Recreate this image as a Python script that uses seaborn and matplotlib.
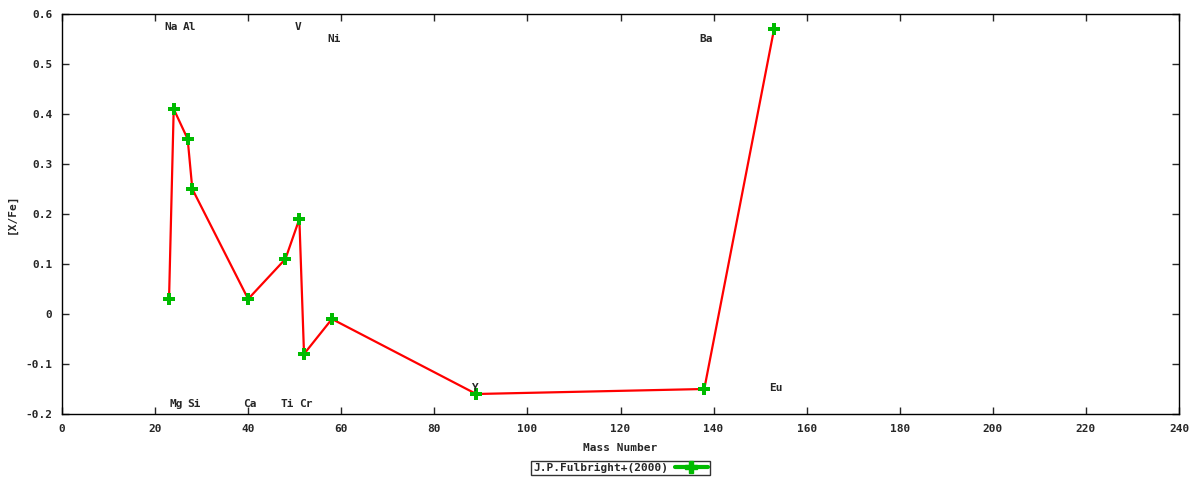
import pandas as pd
import seaborn as sns
import matplotlib.pyplot as plt
from matplotlib.lines import Line2D
from matplotlib.ticker import FuncFormatter, MultipleLocator

# Fulbright (2000) abundance pattern
elements = ["Na", "Mg", "Al", "Si", "Ca", "Ti", "V", "Cr", "Ni", "Y", "Ba", "Eu"]
mass_number = [23, 24, 27, 28, 40, 48, 51, 52, 58, 89, 138, 153]
x_fe = [0.03, 0.41, 0.35, 0.25, 0.03, 0.11, 0.19, -0.08, -0.01, -0.16, -0.15, 0.57]

# element label anchors (data coords, left aligned)
label_x = [22, 23, 26, 27, 39, 47, 50, 51, 57, 88, 137, 152]
label_y = [0.575, -0.18, 0.575, -0.18, -0.18, -0.18, 0.575, -0.18, 0.55, -0.148, 0.55, -0.148]

df = pd.DataFrame({"mass": mass_number, "xfe": x_fe, "el": elements})

sns.set_style("ticks")
plt.rcParams["font.family"] = ["DejaVu Sans Mono", "DejaVu Sans"]
plt.rcParams["font.weight"] = "bold"
plt.rcParams["axes.unicode_minus"] = False

fig = plt.figure(figsize=(12, 4.8), dpi=100)
ax = fig.add_axes([62 / 1200, 1 - 414 / 480, 1117 / 1200, 400 / 480])

sns.lineplot(data=df, x="mass", y="xfe", ax=ax, color="#ff0000", lw=1.6,
             sort=False, estimator=None)
sns.scatterplot(data=df, x="mass", y="xfe", ax=ax, color="#00bb00",
                marker="P", s=75, edgecolor="none", zorder=3)

for lx, ly, el in zip(label_x, label_y, elements):
    ax.text(lx, ly, el, fontsize=8, ha="left", va="center", fontweight="bold")

ax.set_xlim(0, 240)
ax.set_ylim(-0.2, 0.6)
ax.xaxis.set_major_locator(MultipleLocator(20))
ax.yaxis.set_major_locator(MultipleLocator(0.1))
ax.yaxis.set_major_formatter(FuncFormatter(lambda v, p: f"{round(v, 1):g}"))
ax.tick_params(direction="in", top=True, right=True, length=5, labelsize=8,
               width=1, pad=7)
for s in ax.spines.values():
    s.set_linewidth(1)
    s.set_color("black")

ax.set_xlabel("Mass Number", fontsize=8, fontweight="bold", labelpad=7)
ax.set_ylabel("[X/Fe]", fontsize=8, fontweight="bold", labelpad=6)

handle = Line2D([], [], color="#00bb00", lw=3, marker="P", markersize=8)
leg = fig.legend([handle], ["J.P.Fulbright+(2000)"], loc="center",
                 bbox_to_anchor=(0.517, 0.025), frameon=True, fancybox=False,
                 fontsize=8, handlelength=3, markerfirst=False,
                 borderpad=0.2, handletextpad=0.6)
leg.get_frame().set_edgecolor("black")
leg.get_frame().set_linewidth(1)

fig.savefig("out.png", dpi=100)
